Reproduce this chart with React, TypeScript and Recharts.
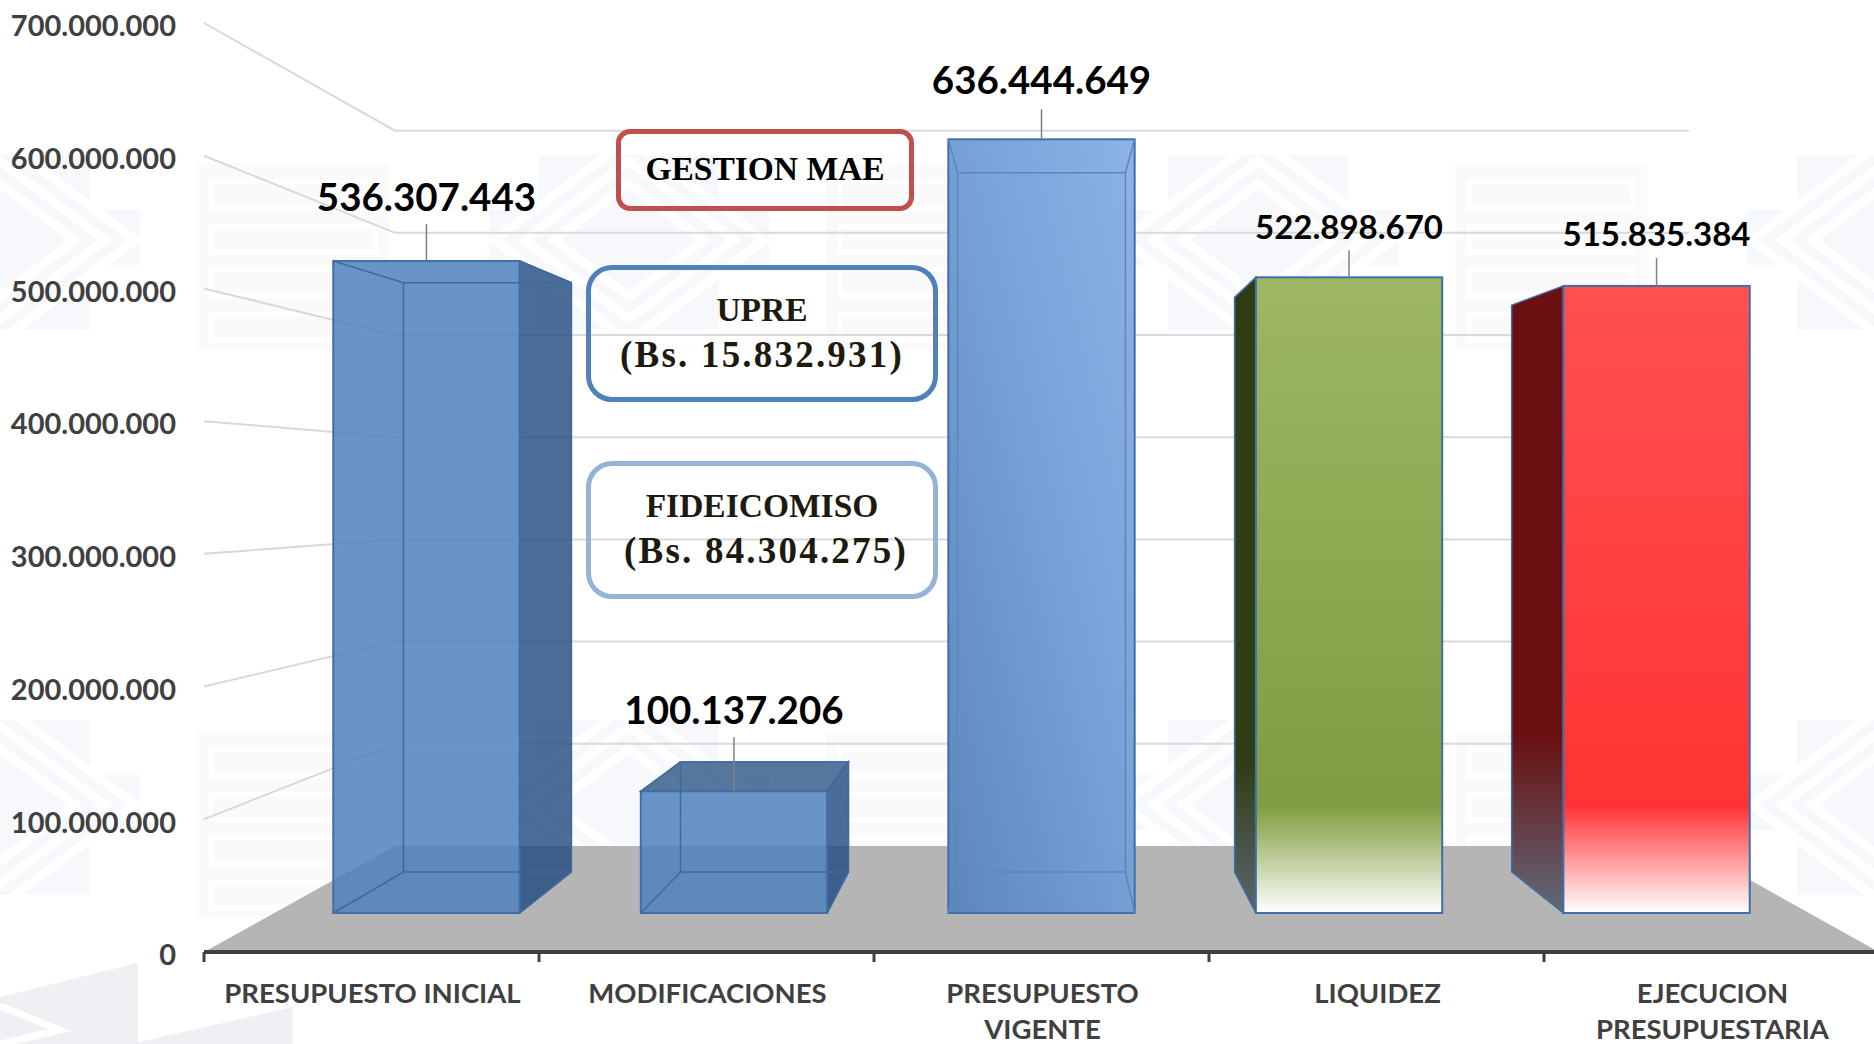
import React from 'react';
import { BarChart, Bar, XAxis, YAxis, CartesianGrid } from 'recharts';

const categories = ['PRESUPUESTO INICIAL', 'MODIFICACIONES', 'PRESUPUESTO VIGENTE', 'LIQUIDEZ', 'EJECUCION PRESUPUESTARIA'];
const categoryLines = [['PRESUPUESTO INICIAL'], ['MODIFICACIONES'], ['PRESUPUESTO', 'VIGENTE'], ['LIQUIDEZ'], ['EJECUCION', 'PRESUPUESTARIA']];
const values = [536307443, 100137206, 636444649, 522898670, 515835384];
const yTicks = [0, 100000000, 200000000, 300000000, 400000000, 500000000, 600000000, 700000000];

const chartData = categories.map((name, i) => ({ name, value: values[i] }));

const WIDTH = 1874;
const HEIGHT = 1044;
// the axis runs a little past the right edge of the picture
const CHART_WIDTH = 1879;
const PLOT_TOP = 23;
const PLOT_LEFT = 204;
const PLOT_BOTTOM = 952;
const BAND = (CHART_WIDTH - PLOT_LEFT) / categories.length;
const PLOT_CENTER = PLOT_LEFT + (CHART_WIDTH - PLOT_LEFT) / 2;
const VANISH_X = 1041.5;
const FONT = 'Lato, sans-serif';

// depth planes of the fake 3D box
const FRONT = { sx: 0.918, sy: 0.916, floorY: 913 };
const BACK = { sx: 0.827, sy: 0.828, floorY: 872 };
const WALL = { left: 395, right: 1689, floorY: 846, sy: 0.77 };

const px = (x: number, d: typeof FRONT) => VANISH_X + (x - PLOT_CENTER) * d.sx;
const py = (y: number, d: typeof FRONT) => d.floorY - (PLOT_BOTTOM - y) * d.sy;

const formatNumber = (v: number) => String(v).replace(/\B(?=(\d{3})+$)/g, '.');

// label lift above the bar, leader length, font size
const labelLift = [65, 82, 60, 51, 53];
const leaderLength = [37, 54, 30, 27, 28];
const labelSize = [38.5, 38.5, 38.5, 33, 33];

const faceStyles = [
  { front: '#4f81bd', opacity: 0.85 },
  { front: '#4f81bd', opacity: 0.85 },
  { front: 'url(#vigenteFill)', opacity: 1 },
  { front: 'url(#greenFront)', side: 'url(#greenSide)', opacity: 1, solid: true },
  { front: 'url(#redFront)', side: 'url(#redSide)', opacity: 1, solid: true },
];

const poly = (pts: number[][]) => pts.map(p => p.join(',')).join(' ');

const Box3D = (props: any) => {
  const { x, y, width, height, index, payload } = props;
  const style: any = faceStyles[index];
  const bottom = y + height;
  const fl = px(x, FRONT);
  const fr = px(x + width, FRONT);
  const ft = py(y, FRONT);
  const fb = py(bottom, FRONT);
  const bl = px(x, BACK);
  const br = px(x + width, BACK);
  const bt = py(y, BACK);
  const bb = py(bottom, BACK);
  const cx = (fl + fr) / 2;
  const edge = '#3f6fa9';
  const inner = index === 2 ? '#5b87bd' : '#41699c';
  const sideFill = style.side || '#1f497d';
  const sideOpacity = style.side ? 1 : 0.8;

  return (
    <g>
      {br > fr && <polygon points={poly([[fr, ft], [br, bt], [br, bb], [fr, fb]])} fill={sideFill} fillOpacity={sideOpacity} stroke={edge} strokeWidth={1.5} />}
      {bl < fl && <polygon points={poly([[fl, ft], [bl, bt], [bl, bb], [fl, fb]])} fill={sideFill} fillOpacity={sideOpacity} stroke={edge} strokeWidth={1.5} />}
      {bt < ft && !style.solid && <polygon points={poly([[fl, ft], [bl, bt], [br, bt], [fr, ft]])} fill={sideFill} fillOpacity={0.75} stroke={edge} strokeWidth={1.5} />}
      <rect x={fl} y={ft} width={fr - fl} height={fb - ft} fill={style.front} fillOpacity={style.opacity} stroke={edge} strokeWidth={2} />
      {!style.solid && (
        <g stroke={inner} strokeWidth={1.5} fill="none">
          <polyline points={poly([[bl, bb], [br, bb], [br, bt], [bl, bt], [bl, bb]])} />
          <line x1={fl} y1={fb} x2={bl} y2={bb} />
          <line x1={fr} y1={fb} x2={br} y2={bb} />
          <line x1={fl} y1={ft} x2={bl} y2={bt} />
          <line x1={fr} y1={ft} x2={br} y2={bt} />
        </g>
      )}
      <line x1={cx} y1={ft} x2={cx} y2={ft - leaderLength[index]} stroke="#808080" strokeWidth={1.5} />
      <text x={cx} y={ft - labelLift[index]} textAnchor="middle" dominantBaseline="central" fontFamily={FONT} fontWeight={700} fontSize={labelSize[index]} fill="#000">
        {formatNumber(payload.value)}
      </text>
    </g>
  );
};

const GridLine = (props: any) => {
  const { y1 } = props;
  const backY = WALL.floorY - (PLOT_BOTTOM - y1) * WALL.sy;
  if (y1 >= PLOT_BOTTOM - 1) {
    return (
      <polygon
        key="floor"
        points={poly([[PLOT_LEFT, PLOT_BOTTOM], [WALL.left, WALL.floorY], [WALL.right, WALL.floorY], [CHART_WIDTH, PLOT_BOTTOM]])}
        fill="#b5b5b5"
      />
    );
  }
  return (
    <polyline
      key={y1}
      points={poly([[PLOT_LEFT, y1], [WALL.left, backY], [WALL.right, backY]])}
      fill="none"
      stroke="#d9d9d9"
      strokeWidth={2}
    />
  );
};

const CategoryTick = (props: any) => {
  const { x, index } = props;
  return (
    <g>
      <line x1={x - BAND / 2} y1={PLOT_BOTTOM} x2={x - BAND / 2} y2={PLOT_BOTTOM + 10} stroke="#404040" strokeWidth={3} />
      {categoryLines[index].map((line, i) => (
        <text key={line} x={x + 1} y={PLOT_BOTTOM + 40 + i * 36} textAnchor="middle" dominantBaseline="central" fontFamily={FONT} fontWeight={700} fontSize={27.5} fill="#404040">
          {line}
        </text>
      ))}
    </g>
  );
};

// faint background motifs
const Diamond = ({ x, y }: { x: number; y: number }) => (
  <g>
    <rect x={x - 90} y={y - 85} width={180} height={175} fill="#f3f6fa" />
    <rect x={x - 140} y={y - 30} width={280} height={55} fill="#f3f6fa" />
    <g fill="none" stroke="#fff" strokeWidth={9}>
      {[135, 105, 75].map(r => (
        <polygon key={r} points={poly([[x - r, y], [x, y - r * 0.75], [x + r, y], [x, y + r * 0.75]])} />
      ))}
    </g>
  </g>
);

const Meander = ({ x, y }: { x: number; y: number }) => (
  <g>
    <rect x={x} y={y} width={192} height={186} fill="#f8f8f9" />
    <g fill="none" stroke="#fff" strokeWidth={5}>
      {[18, 62, 106, 150].map(o => (
        <rect key={o} x={x + 14} y={y + o} width={164} height={26} />
      ))}
    </g>
  </g>
);

const Watermark = () => (
  <svg width={WIDTH} height={HEIGHT} style={{ position: 'absolute', left: 0, top: 0 }}>
    <g opacity={0.7}>
      {[0, 629, 1258, 1887].map(o => (
        <g key={o}>
          <Diamond x={o} y={240} />
          <Diamond x={o} y={805} />
          <Meander x={o + 197} y={164} />
          <Meander x={o + 197} y={732} />
        </g>
      ))}
    </g>
    <polygon points={poly([[0, 997], [138, 963], [138, 1044], [0, 1044]])} fill="#eff0f4" />
    <polygon points={poly([[130, 1044], [293, 1007], [293, 1044]])} fill="#eff0f4" />
    <polyline points={poly([[0, 1006], [60, 1030], [0, 1044]])} fill="none" stroke="#fff" strokeWidth={7} />
  </svg>
);

const boxes = [
  { left: 616, top: 129, width: 298, height: 82, color: '#c0504d', radius: 14, lines: ['GESTION MAE'], text: '#000' },
  { left: 586, top: 265, width: 352, height: 137, color: '#4f81bd', radius: 26, lines: ['UPRE', '(Bs. 15.832.931)'], text: '#1d1b10' },
  { left: 586, top: 461, width: 352, height: 138, color: '#95b3d7', radius: 26, lines: ['FIDEICOMISO', '(Bs. 84.304.275)'], text: '#1d1b10' },
];

const App = () => (
  <div style={{ position: 'absolute', left: 0, top: 0, width: WIDTH, height: HEIGHT, background: '#fff', overflow: 'hidden' }}>
    <Watermark />
    <div style={{ position: 'absolute', left: 0, top: 0 }}>
      <BarChart width={CHART_WIDTH} height={HEIGHT} data={chartData} barSize={203} margin={{ top: PLOT_TOP, right: 0, left: 0, bottom: 0 }}>
        <defs>
          <linearGradient id="vigenteFill" x1="1" y1="0" x2="0" y2="1">
            <stop offset="0" stopColor="#8db3e8" />
            <stop offset="0.5" stopColor="#75a0d6" />
            <stop offset="1" stopColor="#5c87bd" />
          </linearGradient>
          <linearGradient id="greenFront" x1="0" y1="0" x2="0" y2="1">
            <stop offset="0" stopColor="#9db762" />
            <stop offset="0.83" stopColor="#7f9c43" />
            <stop offset="0.88" stopColor="#a3b873" />
            <stop offset="1" stopColor="#ffffff" />
          </linearGradient>
          <linearGradient id="redFront" x1="0" y1="0" x2="0" y2="1">
            <stop offset="0" stopColor="#ff5050" />
            <stop offset="0.83" stopColor="#ff3333" />
            <stop offset="0.88" stopColor="#ff7070" />
            <stop offset="1" stopColor="#ffffff" />
          </linearGradient>
          <linearGradient id="greenSide" x1="0" y1="0" x2="0" y2="1">
            <stop offset="0" stopColor="#2e3c14" />
            <stop offset="0.76" stopColor="#2e3c14" />
            <stop offset="1" stopColor="#5c6670" />
          </linearGradient>
          <linearGradient id="redSide" x1="0" y1="0" x2="0" y2="1">
            <stop offset="0" stopColor="#6a1012" />
            <stop offset="0.72" stopColor="#6a1012" />
            <stop offset="1" stopColor="#5f6a78" />
          </linearGradient>
        </defs>
        <CartesianGrid vertical={false} horizontal={GridLine as any} syncWithTicks />
        <XAxis
          dataKey="name"
          interval={0}
          height={HEIGHT - PLOT_BOTTOM}
          tickLine={false}
          axisLine={{ stroke: '#404040', strokeWidth: 4 }}
          tick={CategoryTick as any}
        />
        <YAxis
          width={PLOT_LEFT}
          domain={[0, 700000000]}
          ticks={yTicks}
          interval={0}
          tickLine={false}
          axisLine={false}
          tickMargin={22}
          tickFormatter={formatNumber}
          tick={{ fontFamily: FONT, fontWeight: 700, fontSize: 29, fill: '#404040', dy: 3 }}
        />
        <Bar dataKey="value" isAnimationActive={false} shape={Box3D as any} />
      </BarChart>
    </div>
    {boxes.map(b => (
      <div
        key={b.lines[0]}
        style={{
          position: 'absolute',
          left: b.left,
          top: b.top,
          width: b.width,
          height: b.height,
          boxSizing: 'border-box',
          border: `5px solid ${b.color}`,
          borderRadius: b.radius,
          display: 'flex',
          flexDirection: 'column',
          alignItems: 'center',
          justifyContent: 'center',
          paddingBottom: 4,
          fontFamily: '"Liberation Serif", serif',
          fontWeight: 700,
          fontSize: 33.5,
          lineHeight: '45px',
          color: b.text,
        }}
      >
        {b.lines.map(l =>
          l.startsWith('(') ? (
            <div key={l} style={{ fontSize: 37, letterSpacing: 2.2, marginLeft: l.includes('84') ? 8 : 0 }}>{l}</div>
          ) : (
            <div key={l}>{l}</div>
          )
        )}
      </div>
    ))}
  </div>
);

export default App;
